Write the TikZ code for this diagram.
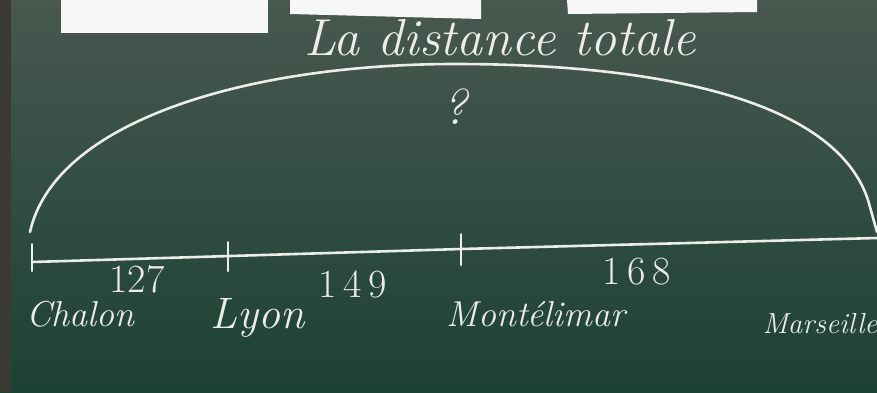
\documentclass[tikz,border=0pt]{standalone}
\usepackage{fontspec}
\setmainfont{Latin Modern Roman}
\begin{document}
\begin{tikzpicture}[x=1pt,y=-1pt,
  chalk/.style={draw=chalkc, line width=2.6pt, line cap=round, line join=round},
  tickline/.style={draw=chalkc, line width=2pt, line cap=round},
  city/.style={text=chalkc, font=\fontsize{34}{38}\selectfont\itshape, inner sep=0pt, anchor=base},
  dist/.style={text=chalkc, font=\fontsize{40}{44}\selectfont, inner sep=0pt, anchor=base},
  card/.style={fill=cardc, draw=none}]
\definecolor{chalkc}{HTML}{ECEDE6}
\definecolor{boardtop}{HTML}{48584F}
\definecolor{boardbot}{HTML}{1C4234}
\definecolor{framec}{HTML}{3A3A32}
\definecolor{cardc}{HTML}{F7F7F5}
\useasboundingbox (0,0) rectangle (877,392);
% board
\shade[top color=boardtop, bottom color=boardbot] (0,0) rectangle (877,392);
\fill[framec] (0,0) rectangle (11,392);
% paper cards at the top
\fill[card] (61,0) rectangle (268,33);
\fill[card] (290,0) -- (481,0) -- (481,19) -- (290,14) -- cycle;
\fill[card] (567,0) -- (757,0) -- (757,12) -- (568,14) -- cycle;
% title and question mark
\node[city, font=\fontsize{52}{58}\selectfont\itshape] (title) at (500,55) {La distance totale};
\node[city, font=\fontsize{50}{54}\selectfont\itshape] (q) at (455,124) {?};
% key points on the line
\coordinate (pC) at (32,262);
\coordinate (pL) at (228,257);
\coordinate (pM) at (461,249);
\coordinate (pE) at (877,238);
% arc
\coordinate (aL) at (30,232);
\coordinate (aR) at (877,232);
\draw[chalk] (aL) .. controls (55,120) and (250,64) .. (455,64)
  .. controls (660,64) and (835,100) .. (868,200) -- (aR);
% number line
\draw[chalk] (pC) -- (pM) -- (pE);
\draw[tickline] ([yshift=-9pt]pC) -- ([yshift=18pt]pC);
\draw[tickline] ([yshift=-14pt]pL) -- ([yshift=15pt]pL);
\draw[tickline] ([yshift=-16pt]pM) -- ([yshift=15pt]pM);
% city names
\node[city, font=\fontsize{36}{40}\selectfont\itshape] (chalon) at (80,326) {Chalon};
\node[city, font=\fontsize{44}{48}\selectfont\itshape] (lyon) at (258,328) {Lyon};
\node[city, font=\fontsize{36}{40}\selectfont\itshape] (mont) at (536,326) {Montélimar};
\node[city, font=\fontsize{29}{32}\selectfont\itshape] (mars) at (820,333) {Marseille};
% distances
\node[dist] (d1) at (137,292) {127};
\node[dist] (d2) at (353,297) {1\,4\,9};
\node[dist] (d3) at (637,284) {1\,6\,8};
\end{tikzpicture}
\end{document}
